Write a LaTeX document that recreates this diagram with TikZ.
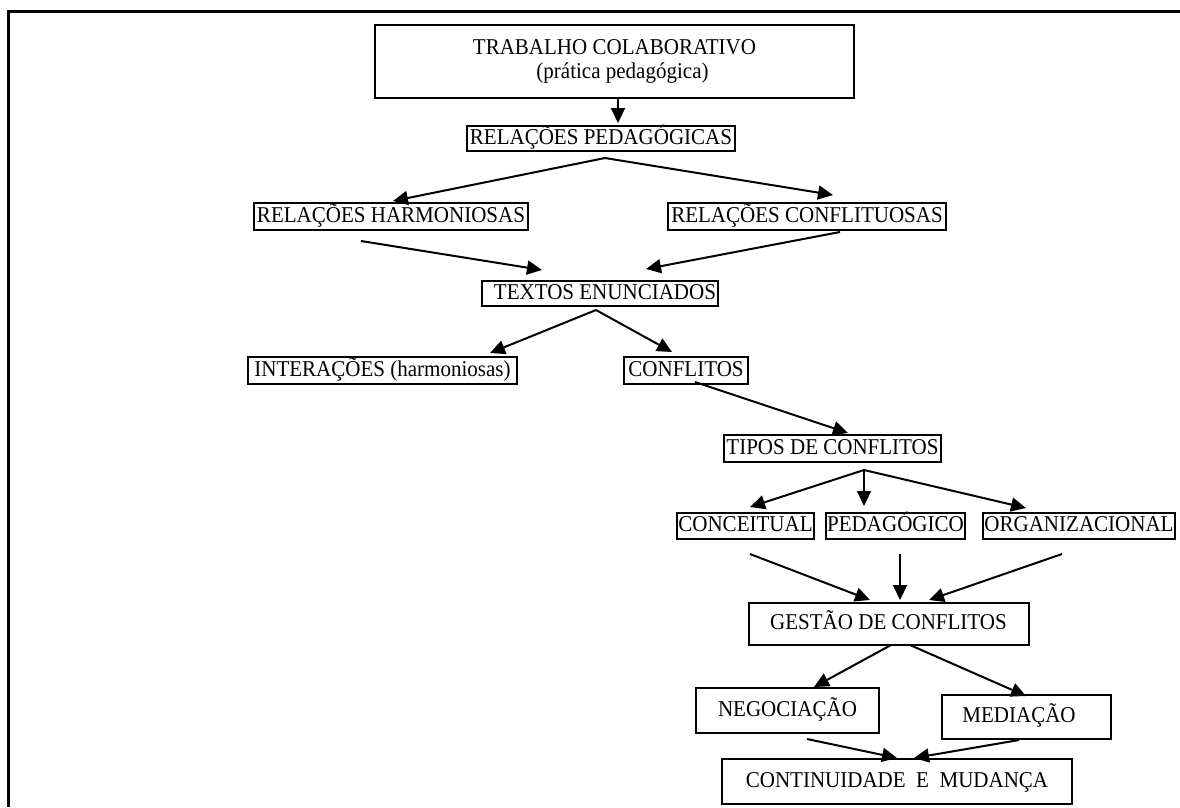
\documentclass[tikz,border=0pt]{standalone}
\usepackage{fontspec}
\setmainfont{Liberation Serif}[FakeStretch=0.93]
\usetikzlibrary{arrows.meta}
\begin{document}
\begin{tikzpicture}[x=1pt,y=-1pt,
  boxbase/.style={draw, line width=2pt, inner sep=0pt, anchor=center, font=\fontsize{22.6}{21}\selectfont},
  box/.style={boxbase, text height=16pt, text depth=5pt},
  arr/.style={line width=2pt, -{Triangle[length=15pt,width=14pt]}},
  frameline/.style={line width=3pt}]
\useasboundingbox (0,0) rectangle (1180,807);
\fill[white] (0,0) rectangle (1180,807);
\draw[frameline] (8,807) -- (8,11) -- (1180,11);

% boxes
\node[boxbase, minimum width=479pt, minimum height=73pt, align=center, font=\fontsize{22.6}{24}\selectfont] (t1) at (614.5,61.5)
  {TRABALHO COLABORATIVO\\\hspace*{16pt}(prática pedagógica)};
\node[box, minimum width=268pt, minimum height=25pt] (rp) at (601,138.5) {RELAÇÕES PEDAGÓGICAS};
\node[box, minimum width=274pt, minimum height=27pt] (harm) at (391,216.5) {RELAÇÕES HARMONIOSAS};
\node[box, minimum width=278pt, minimum height=27pt] (conf) at (807,216.5) {RELAÇÕES CONFLITUOSAS};
\node[box, minimum width=236pt, minimum height=25pt] (textos) at (600,293.5) {\hspace*{10pt}TEXTOS ENUNCIADOS};
\node[box, minimum width=269pt, minimum height=27pt] (inter) at (382.5,370.5) {INTERAÇÕES (harmoniosas)};
\node[box, minimum width=124pt, minimum height=27pt] (confl) at (686,370.5) {CONFLITOS};
\node[box, minimum width=217pt, minimum height=27pt] (tipos) at (832.5,448.5) {TIPOS DE CONFLITOS};
\node[box, minimum width=137pt, minimum height=26pt] (conc) at (745.5,526) {CONCEITUAL};
\node[box, minimum width=139pt, minimum height=26pt] (ped) at (895.5,526) {PEDAGÓGICO};
\node[box, minimum width=192pt, minimum height=26pt] (org) at (1079,526) {ORGANIZACIONAL};
\node[box, minimum width=280pt, minimum height=42pt] (gest) at (888.5,624) {GESTÃO DE CONFLITOS};
\node[box, minimum width=183pt, minimum height=45pt] (neg) at (787.5,710.5) {NEGOCIAÇÃO};
\node[box, minimum width=169pt, minimum height=44pt] (med) at (1026.5,717) {MEDIAÇÃO\hspace*{15pt}};
\node[box, minimum width=350pt, minimum height=45pt] (cont) at (897,781.5) {CONTINUIDADE\ \ E\ \ MUDANÇA};

% connector end points
\coordinate (t1-out) at (618,98);
\coordinate (rp-in) at (618,123);
\coordinate (rp-out) at (605,158);
\coordinate (harm-in) at (393,201);
\coordinate (conf-in) at (833,195);
\coordinate (harm-out) at (361,241);
\coordinate (conf-out) at (840,232);
\coordinate (textos-inl) at (542,270);
\coordinate (textos-inr) at (646,269);
\coordinate (textos-out) at (596,310);
\coordinate (inter-in) at (490,353);
\coordinate (confl-in) at (672,352);
\coordinate (confl-out) at (695,382);
\coordinate (tipos-in) at (848,433);
\coordinate (tipos-out) at (864,470);
\coordinate (conc-in) at (750,507);
\coordinate (ped-in) at (864,506);
\coordinate (org-in) at (1026,508);
\coordinate (conc-out) at (750,554);
\coordinate (ped-out) at (900,554);
\coordinate (org-out) at (1062,554);
\coordinate (gest-inl) at (870,600);
\coordinate (gest-inm) at (900,600);
\coordinate (gest-inr) at (929,600);
\coordinate (gest-outl) at (891,645);
\coordinate (gest-outr) at (910,645);
\coordinate (neg-in) at (814,687);
\coordinate (med-in) at (1026,696);
\coordinate (neg-out) at (807,739);
\coordinate (med-out) at (1019,740);
\coordinate (cont-inl) at (897,758);
\coordinate (cont-inr) at (914,758);

% connectors
\draw[arr] (t1-out) -- (rp-in);
\draw[arr] (rp-out) -- (harm-in);
\draw[arr] (rp-out) -- (conf-in);
\draw[arr] (harm-out) -- (textos-inl);
\draw[arr] (conf-out) -- (textos-inr);
\draw[arr] (textos-out) -- (inter-in);
\draw[arr] (textos-out) -- (confl-in);
\draw[arr] (confl-out) -- (tipos-in);
\draw[arr] (tipos-out) -- (conc-in);
\draw[arr] (tipos-out) -- (ped-in);
\draw[arr] (tipos-out) -- (org-in);
\draw[arr] (conc-out) -- (gest-inl);
\draw[arr] (ped-out) -- (gest-inm);
\draw[arr] (org-out) -- (gest-inr);
\draw[arr] (gest-outl) -- (neg-in);
\draw[arr] (gest-outr) -- (med-in);
\draw[arr] (neg-out) -- (cont-inl);
\draw[arr] (med-out) -- (cont-inr);
\end{tikzpicture}
\end{document}
